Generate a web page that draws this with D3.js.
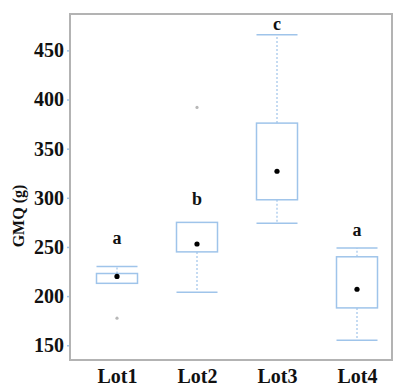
<!DOCTYPE html>
<html>
<head>
<meta charset="utf-8">
<script src="https://cdn.jsdelivr.net/npm/d3@7"></script>
<style>
  body { margin: 0; background: #fff; }
  text { font-family: "Liberation Serif", "Times New Roman", serif; font-weight: bold; fill: #111; }
</style>
</head>
<body>
<div id="graphic"></div>
<script>
// data
var lots = ["Lot1", "Lot2", "Lot3", "Lot4"];
var q1 = [213, 245, 298, 188];
var q3 = [223, 275, 376, 240];
var whiskLo = [213, 204, 274, 155];
var whiskHi = [230, 275, 466, 249];
var means = [220, 253, 327, 207];
var outliers = [[177.5], [392], [], []];
var letters = ["a", "b", "c", "a"];
var letterY = [257, 297, 475, 265];
var yTicks = [150, 200, 250, 300, 350, 400, 450];

var W = 393, H = 388;
var margin = { top: 14, right: 1, bottom: 28, left: 70 };

var svg = d3.select("#graphic").append("svg")
  .attr("width", W)
  .attr("height", H);

var y = d3.scaleLinear()
  .domain([135, 487])
  .range([H - margin.bottom, margin.top]);

// panel runs a bit past the right edge of the crop
var x = d3.scalePoint()
  .domain(lots)
  .range([77, 397])
  .padding(0.5);

var boxW = 41;
var blue = "#9fc4ea";

var rows = lots.map(function (d, i) {
  return { name: d, q1: q1[i], q3: q3[i], lo: whiskLo[i], hi: whiskHi[i], mean: means[i], out: outliers[i], letter: letters[i], ly: letterY[i] };
});

// y axis ticks + labels
var yAxis = svg.append("g")
  .attr("transform", "translate(" + margin.left + ",0)")
  .call(d3.axisLeft(y).tickValues(yTicks).tickSize(3).tickPadding(3));
yAxis.select(".domain").remove();
yAxis.selectAll(".tick line").attr("stroke", blue).attr("stroke-width", 1.5);
yAxis.selectAll(".tick text")
  .style("font-family", "'Liberation Serif', serif")
  .style("font-weight", "bold")
  .style("font-size", "20px")
  .attr("fill", "#111");

// x axis labels
var xAxis = svg.append("g")
  .attr("transform", "translate(0," + (H - margin.bottom) + ")")
  .call(d3.axisBottom(x).tickSize(0).tickPadding(9));
xAxis.select(".domain").remove();
xAxis.selectAll(".tick text")
  .style("font-family", "'Liberation Serif', serif")
  .style("font-weight", "bold")
  .style("font-size", "20px")
  .attr("fill", "#111");

// frame
svg.append("rect")
  .attr("x", margin.left)
  .attr("y", margin.top)
  .attr("width", W - margin.right - margin.left)
  .attr("height", H - margin.bottom - margin.top)
  .attr("fill", "none")
  .attr("stroke", "#b3b3b3")
  .attr("stroke-width", 2);

// y title
svg.append("text")
  .attr("transform", "translate(20,216) rotate(-90)")
  .attr("text-anchor", "middle")
  .attr("dominant-baseline", "middle")
  .style("font-size", "16px")
  .text("GMQ (g)");

var g = svg.selectAll(".box")
  .data(rows)
  .enter().append("g")
  .attr("class", "box");

// whiskers (dotted)
g.append("line")
  .attr("x1", function (d) { return x(d.name); })
  .attr("x2", function (d) { return x(d.name); })
  .attr("y1", function (d) { return y(d.q3); })
  .attr("y2", function (d) { return y(d.hi); })
  .attr("stroke", blue).attr("stroke-width", 1.2).attr("stroke-dasharray", "2,2");
g.append("line")
  .attr("x1", function (d) { return x(d.name); })
  .attr("x2", function (d) { return x(d.name); })
  .attr("y1", function (d) { return y(d.q1); })
  .attr("y2", function (d) { return y(d.lo); })
  .attr("stroke", blue).attr("stroke-width", 1.2).attr("stroke-dasharray", "2,2");

// caps, only where the whisker leaves the box
g.filter(function (d) { return d.hi > d.q3; }).append("line")
  .attr("x1", function (d) { return x(d.name) - boxW / 2; })
  .attr("x2", function (d) { return x(d.name) + boxW / 2; })
  .attr("y1", function (d) { return y(d.hi); })
  .attr("y2", function (d) { return y(d.hi); })
  .attr("stroke", blue).attr("stroke-width", 1.5);
g.filter(function (d) { return d.lo < d.q1; }).append("line")
  .attr("x1", function (d) { return x(d.name) - boxW / 2; })
  .attr("x2", function (d) { return x(d.name) + boxW / 2; })
  .attr("y1", function (d) { return y(d.lo); })
  .attr("y2", function (d) { return y(d.lo); })
  .attr("stroke", blue).attr("stroke-width", 1.5);

// boxes
g.append("rect")
  .attr("x", function (d) { return x(d.name) - boxW / 2; })
  .attr("y", function (d) { return y(d.q3); })
  .attr("width", boxW)
  .attr("height", function (d) { return y(d.q1) - y(d.q3); })
  .attr("fill", "#fff")
  .attr("stroke", blue)
  .attr("stroke-width", 1.5);

// means
g.append("circle")
  .attr("cx", function (d) { return x(d.name); })
  .attr("cy", function (d) { return y(d.mean); })
  .attr("r", 2.6)
  .attr("fill", "#000");

// outliers
g.selectAll(".out")
  .data(function (d) { return d.out.map(function (v) { return { name: d.name, v: v }; }); })
  .enter().append("circle")
  .attr("class", "out")
  .attr("cx", function (d) { return x(d.name); })
  .attr("cy", function (d) { return y(d.v); })
  .attr("r", 1.6)
  .attr("fill", "#b8b8b8");

// significance letters
g.append("text")
  .attr("x", function (d) { return x(d.name); })
  .attr("y", function (d) { return y(d.ly); })
  .attr("text-anchor", "middle")
  .attr("dominant-baseline", "middle")
  .style("font-size", "18px")
  .text(function (d) { return d.letter; });
</script>
</body>
</html>
